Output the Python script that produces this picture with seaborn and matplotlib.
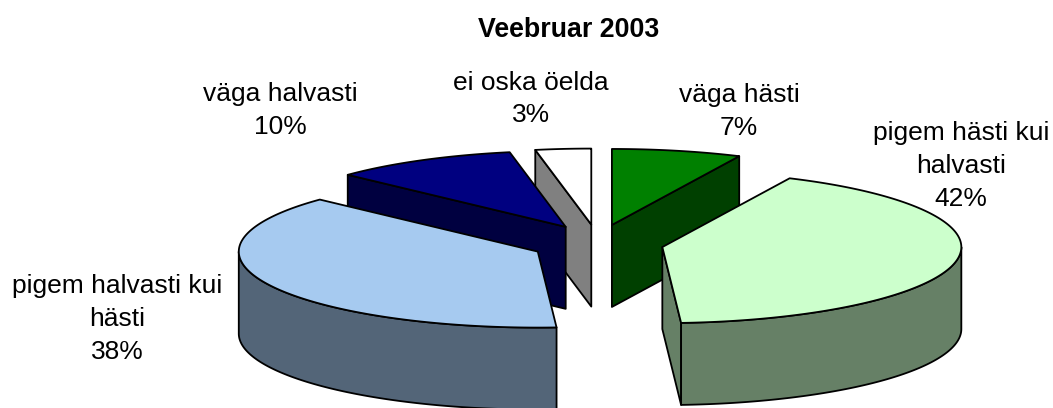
import numpy as np
import matplotlib
matplotlib.use("Agg")
import matplotlib.pyplot as plt
import seaborn as sns

title = "Veebruar 2003"
categories = ["väga hästi", "pigem hästi kui\nhalvasti", "pigem halvasti kui\nhästi", "väga halvasti", "ei oska öelda"]
shares = [7, 42, 38, 10, 3]
top_colors = ["#008000", "#CCFFCC", "#A6CAF0", "#000080", "#FFFFFF"]
label_pos = [(739, 111.5), (961, 166), (117, 319), (280, 110.5), (531, 99)]

# pie geometry in image pixels
CX, CY = 597.5, 243.5
RX, RY = 299, 76
EX, EY = 66, 19
DEPTH = 82
LW = 1.3


def edge(t, ox, oy):
    return ox + RX * np.sin(t), oy - RY * np.cos(t)


def draw_slice(ax, t1, t2, color):
    mid = (t1 + t2) / 2
    ox = CX + EX * np.sin(mid)
    oy = CY - EY * np.cos(mid)
    side = np.array(matplotlib.colors.to_rgb(color)) * 0.5
    style = dict(edgecolor="black", linewidth=LW, joinstyle="round")

    # cut faces, only the ones turned to the viewer
    for t, visible in ((t1, np.sin(t1) < -1e-6), (t2, np.sin(t2) > 1e-6)):
        if visible:
            x, y = edge(t, ox, oy)
            ax.fill([ox, x, x, ox], [oy, y, y + DEPTH, oy + DEPTH], facecolor=side, **style)

    # rounded outer wall on the front half
    lo, hi = max(t1, np.pi / 2), min(t2, 3 * np.pi / 2)
    if lo < hi:
        arc = np.linspace(lo, hi, 120)
        x, y = edge(arc, ox, oy)
        ax.fill(np.r_[x, x[::-1]], np.r_[y, y[::-1] + DEPTH], facecolor=side, **style)

    arc = np.linspace(t1, t2, 200)
    x, y = edge(arc, ox, oy)
    ax.fill(np.r_[ox, x], np.r_[oy, y], facecolor=color, **style)


sns.set_theme(style="white")
plt.rcParams["font.family"] = ["Liberation Sans", "DejaVu Sans"]

fig, ax = plt.subplots(figsize=(10.53, 4.08), dpi=100)
ax.set_position([0, 0, 1, 1])
ax.set_xlim(0, 1053)
ax.set_ylim(408, 0)
ax.axis("off")

bounds = np.r_[0, np.cumsum(shares)] / sum(shares) * 2 * np.pi
# back slices first so the front ones cover them
for i in [4, 3, 0, 2, 1]:
    draw_slice(ax, bounds[i], bounds[i + 1], top_colors[i])

for name, share, (lx, ly) in zip(categories, shares, label_pos):
    ax.text(lx, ly, f"{name}\n{share}%", ha="center", va="center", fontsize=19,
            color="black", linespacing=1.47)

ax.text(568.5, 30, title, ha="center", va="center", fontsize=19.3, fontweight="bold", color="black")

fig.savefig("out.png", dpi=100)
